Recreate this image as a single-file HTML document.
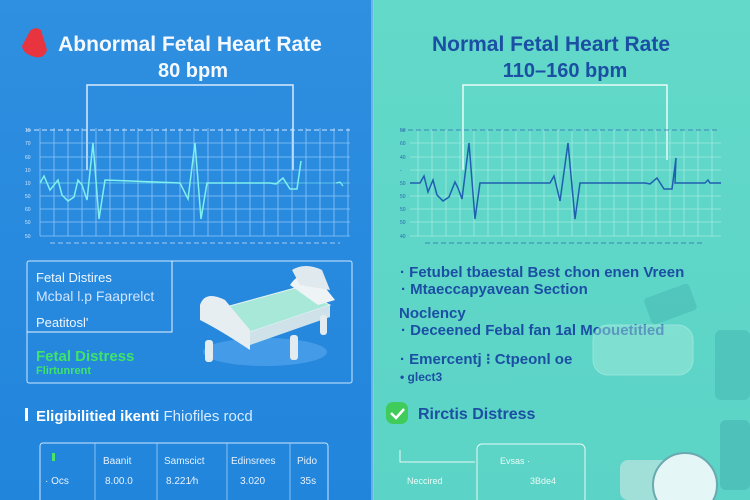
<!DOCTYPE html>
<html><head><style>
html,body{margin:0;padding:0;width:750px;height:500px;overflow:hidden;font-family:"Liberation Sans",sans-serif}
</style></head><body>
<svg width="750" height="500" viewBox="0 0 750 500" xmlns="http://www.w3.org/2000/svg" font-family="Liberation Sans, sans-serif">
<defs>
<linearGradient id="lb" x1="0" y1="0" x2="0" y2="1"><stop offset="0" stop-color="#2f8fe0"/><stop offset="1" stop-color="#2185dc"/></linearGradient>
<linearGradient id="rb" x1="0" y1="0" x2="0" y2="1"><stop offset="0" stop-color="#62d9c9"/><stop offset="1" stop-color="#5bd3c6"/></linearGradient>
</defs>
<rect x="0" y="0" width="373" height="500" fill="url(#lb)"/>
<rect x="373" y="0" width="377" height="500" fill="url(#rb)"/>
<rect x="371" y="0" width="3" height="500" fill="#8fd0e8" opacity="0.6"/>

<!-- LEFT -->
<path d="M30 31 Q35 26 41 30 L47 50 Q44 59 35 57 Q23 54 22 46 Z" fill="#e8343f"/>
<text x="190" y="51" text-anchor="middle" font-size="21" font-weight="bold" fill="#f4f8ff">Abnormal Fetal Heart Rate</text>
<text x="193" y="77" text-anchor="middle" font-size="20" font-weight="bold" fill="#f4f8ff">80 bpm</text>
<path d="M87 170 V85 H293 V170" fill="none" stroke="#d8ecff" stroke-width="1.5"/>
<g stroke="#a9d4ff" stroke-width="0.8" opacity="0.8">
<line x1="40" y1="143" x2="350" y2="143"/><line x1="40" y1="157" x2="350" y2="157"/><line x1="40" y1="170" x2="350" y2="170"/><line x1="40" y1="196" x2="350" y2="196"/><line x1="40" y1="209" x2="350" y2="209"/><line x1="40" y1="222" x2="350" y2="222"/><line x1="40" y1="236" x2="350" y2="236"/>
<path d="M40 128V236M54 128V236M68 128V236M82 128V236M96 128V236M110 128V236M124 128V236M138 128V236M152 128V236M166 128V236M180 128V236M194 128V236M208 128V236M222 128V236M236 128V236M250 128V236M264 128V236M278 128V236M292 128V236M306 128V236M320 128V236M334 128V236M348 128V236"/>
</g>
<line x1="26" y1="130" x2="350" y2="130" stroke="#cfe6ff" stroke-dasharray="5,3"/>
<line x1="50" y1="243" x2="340" y2="243" stroke="#cfe6ff" stroke-dasharray="5,3" opacity="0.7"/>
<g font-size="5" fill="#d0e6ff"><text x="25" y="132">15</text><text x="25" y="145">70</text><text x="25" y="159">60</text><text x="25" y="172">10</text><text x="25" y="185">10</text><text x="25" y="198">50</text><text x="25" y="211">60</text><text x="25" y="224">50</text><text x="25" y="238">50</text></g>
<line x1="40" y1="183" x2="350" y2="183" stroke="#7ee8f0" stroke-width="1" opacity="0.6"/>
<polyline fill="none" stroke="#7ff0ee" stroke-width="1.5" points="40,183 44,176 50,190 58,180 62,195 68,201 74,197 78,180 82,185 87,200 93,143 99,219 105,180 180,183 188,199 195,143 201,219 207,183 270,183 276,184 283,178 290,189 297,189 301,161"/>
<polyline fill="none" stroke="#7ff0ee" stroke-width="1.2" points="336,183 340,182 343,186"/>

<rect x="27" y="261" width="325" height="122" fill="none" stroke="#cde6ff" stroke-width="1" rx="2"/>
<path d="M27 332 H172 V261" fill="none" stroke="#e8f4ff" stroke-width="1"/>
<text x="36" y="282" font-size="13" fill="#eef6ff">Fetal Distires</text>
<text x="36" y="301" font-size="14" fill="#cfe4ff">Mcbal l.p Faaprelct</text>
<text x="36" y="327" font-size="13" fill="#eef6ff">Peatitosl'</text>
<text x="36" y="361" font-size="15" font-weight="bold" fill="#3ee36a">Fetal Distress</text>
<text x="36" y="374" font-size="11" font-weight="bold" fill="#3ee36a">Flirtunrent</text>
<!-- bed -->
<ellipse cx="265" cy="352" rx="62" ry="14" fill="#5aaaf0" opacity="0.6"/>
<path d="M215 310 L295 288 L330 305 L250 332 Z" fill="#a8e8d8" stroke="#e8f4f4"/>
<path d="M215 310 L250 332 L250 345 L215 323 Z" fill="#dfeef2"/>
<path d="M250 332 L330 305 L330 317 L250 345 Z" fill="#cfe2ea"/>
<path d="M290 285 Q300 270 315 275 L335 300 L318 305 Z" fill="#eef4f6"/>
<path d="M292 270 Q305 262 322 270 L330 290 L300 285 Z" fill="#e0eaee"/>
<path d="M200 305 Q205 290 225 300 L250 330 L250 350 Q220 330 200 320 Z" fill="#e6eef2"/>
<rect x="205" y="340" width="8" height="22" rx="3" fill="#e2ecf0"/><rect x="290" y="335" width="8" height="25" rx="3" fill="#e2ecf0"/><rect x="320" y="315" width="7" height="20" rx="3" fill="#e2ecf0"/>

<rect x="25" y="408" width="3" height="13" fill="#fff"/>
<text x="36" y="421" font-size="15" font-weight="bold" fill="#ffffff">Eligibilitied ikenti <tspan font-weight="normal" fill="#d8ebff">Fhiofiles rocd</tspan></text>
<rect x="40" y="443" width="288" height="60" fill="none" stroke="#cfe6ff" rx="3"/>
<g stroke="#a5d0f8" stroke-width="0.8"><line x1="95" y1="443" x2="95" y2="500"/><line x1="157" y1="443" x2="157" y2="500"/><line x1="227" y1="443" x2="227" y2="500"/><line x1="290" y1="443" x2="290" y2="500"/></g>
<g font-size="10" fill="#e6f2ff"><text x="103" y="464">Baanit</text><text x="164" y="464">Samscict</text><text x="231" y="464">Edinsrees</text><text x="297" y="464">Pido</text>
<text x="45" y="484">· Ocs</text><text x="105" y="484">8.00.0</text><text x="166" y="484">8.221&#8260;h</text><text x="240" y="484">3.020</text><text x="300" y="484">35s</text></g>
<rect x="52" y="453" width="3" height="8" fill="#4be36a"/>

<!-- RIGHT -->
<text x="551" y="51" text-anchor="middle" font-size="21" font-weight="bold" fill="#1b4fa3">Normal Fetal Heart Rate</text>
<text x="565" y="77" text-anchor="middle" font-size="20" font-weight="bold" fill="#1b4fa3">110–160 bpm</text>
<path d="M463 170 V85 H667 V160" fill="none" stroke="#e8fbf7" stroke-width="1.5"/>
<g stroke="#a8ece4" stroke-width="0.8" opacity="0.9">
<line x1="410" y1="143" x2="721" y2="143"/><line x1="410" y1="157" x2="721" y2="157"/><line x1="410" y1="170" x2="721" y2="170"/><line x1="410" y1="196" x2="721" y2="196"/><line x1="410" y1="209" x2="721" y2="209"/><line x1="410" y1="222" x2="721" y2="222"/><line x1="410" y1="236" x2="721" y2="236"/>
<path d="M418 130V236M432 130V236M446 130V236M460 130V236M474 130V236M488 130V236M502 130V236M516 130V236M530 130V236M544 130V236M558 130V236M572 130V236M586 130V236M600 130V236M614 130V236M628 130V236M642 130V236M656 130V236M670 130V236M684 130V236M698 130V236M712 130V236"/>
</g>
<line x1="400" y1="130" x2="720" y2="130" stroke="#2a66b0" stroke-dasharray="5,3" opacity="0.7"/>
<line x1="425" y1="243" x2="705" y2="243" stroke="#2a66b0" stroke-dasharray="5,3" opacity="0.7"/>
<g font-size="5" fill="#2a66b0"><text x="400" y="132">50</text><text x="400" y="145">60</text><text x="400" y="159">40</text><text x="400" y="172">-</text><text x="400" y="185">50</text><text x="400" y="198">50</text><text x="400" y="211">50</text><text x="400" y="224">50</text><text x="400" y="238">40</text></g>
<polyline fill="none" stroke="#1f5fb0" stroke-width="1.5" points="410,183 420,183 424,176 428,192 433,180 437,195 443,201 449,197 455,182 458,188 462,199 469,143 475,219 480,183 550,183 554,176 560,201 568,143 575,219 580,183 645,183 650,184 657,178 664,189 672,189 676,158 675,183 705,183 708,180 710,183 721,183"/>

<g font-weight="bold" fill="#1b4fa3">
<text x="400" y="277" font-size="15">· Fetubel tbaestal  Best chon enen Vreen</text>
<text x="401" y="294" font-size="15">· Mtaeccapyavean Section</text>
<text x="399" y="318" font-size="15">Noclency</text>
<text x="401" y="335" font-size="15">· Deceened Febal fan 1al Moouetitled</text>
<text x="400" y="364" font-size="15">· Emercentj ⁝ Ctpeonl oe</text>
<text x="400" y="381" font-size="12">• glect3</text>
<text x="418" y="419" font-size="16">Rirctis Distress</text>
</g>
<rect x="386" y="402" width="22" height="22" rx="7" fill="#3fcc5a"/>
<path d="M391 413 l5 5 l8 -9" fill="none" stroke="#fff" stroke-width="2.5"/>
<path d="M400 450 V462 H475" fill="none" stroke="#e8fbf7" stroke-width="1"/>
<rect x="477" y="444" width="108" height="60" fill="none" stroke="#e8fbf7" rx="5"/>
<g font-size="9" fill="#e8fbf7"><text x="500" y="464">Evsas ·</text><text x="407" y="484">Neccired</text><text x="530" y="484">3Bde4</text></g>
<!-- faint decorations -->
<rect x="645" y="290" width="48" height="28" rx="4" fill="#3aa8a8" opacity="0.35" transform="rotate(-20 670 300)"/>
<rect x="593" y="325" width="100" height="50" rx="15" fill="#aaefe0" opacity="0.45" stroke="#d8fbf4"/>
<rect x="715" y="330" width="35" height="70" rx="6" fill="#3aa8a8" opacity="0.35"/>
<rect x="620" y="460" width="50" height="40" rx="8" fill="#bde6e0" opacity="0.7"/>
<circle cx="685" cy="485" r="32" fill="#e4f6f6" stroke="#6aa9b0" stroke-width="2"/>
<rect x="720" y="420" width="30" height="70" rx="6" fill="#3aa8a8" opacity="0.4"/>
</svg>
</body></html>
